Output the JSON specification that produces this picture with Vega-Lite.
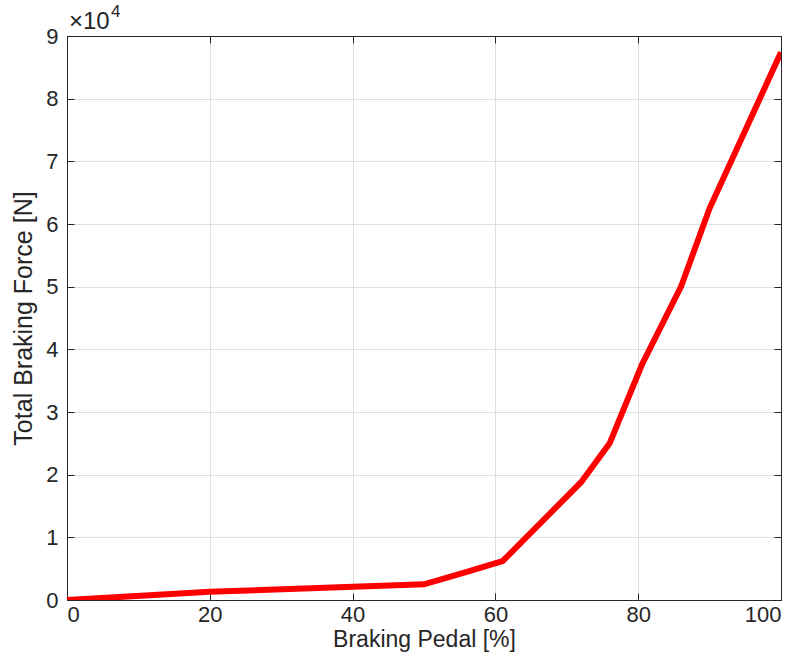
{
  "$schema": "https://vega.github.io/schema/vega-lite/v6.json",
  "width": 714,
  "height": 564,
  "autosize": {"type": "none"},
  "padding": {"left": 67, "top": 36, "right": 23, "bottom": 64},
  "background": "white",
  "config": {
    "font": "Liberation Sans",
    "view": {"stroke": "#262626", "strokeWidth": 1},
    "axis": {
      "labelFont": "Liberation Sans",
      "titleFont": "Liberation Sans",
      "labelFontSize": 22,
      "titleFontSize": 22,
      "titleFontWeight": "normal",
      "labelColor": "#262626",
      "titleColor": "#262626",
      "domainColor": "#262626",
      "tickColor": "#262626",
      "gridColor": "#dfdfdf",
      "gridWidth": 1,
      "tickSize": -7,
      "domain": true
    }
  },
  "data": {
    "values": [
      {"pedal": 0, "force": 0},
      {"pedal": 20, "force": 1300},
      {"pedal": 50, "force": 2500},
      {"pedal": 56, "force": 4500},
      {"pedal": 61, "force": 6200},
      {"pedal": 72, "force": 18800},
      {"pedal": 76, "force": 25000},
      {"pedal": 80.5, "force": 37500},
      {"pedal": 86, "force": 50000},
      {"pedal": 90, "force": 62500},
      {"pedal": 100, "force": 87400}
    ]
  },
  "layer": [
    {
      "mark": {"type": "line", "color": "#ff0000", "strokeWidth": 6, "strokeCap": "butt", "strokeJoin": "miter", "clip": true},
      "encoding": {
        "x": {
          "field": "pedal", "type": "quantitative",
          "scale": {"domain": [0, 100], "nice": false, "zero": false},
          "axis": {"orient": "bottom", "title": "Braking Pedal [%]", "titleFontSize": 23, "values": [0, 20, 40, 60, 80, 100], "grid": true, "labelPadding": 11, "titlePadding": 3}
        },
        "y": {
          "field": "force", "type": "quantitative",
          "scale": {"domain": [0, 90000], "nice": false},
          "axis": {"orient": "left", "title": "Total Braking Force [N]", "titleFontSize": 25, "values": [0, 10000, 20000, 30000, 40000, 50000, 60000, 70000, 80000, 90000], "labelExpr": "datum.value / 10000", "grid": true, "labelPadding": 16, "titlePadding": 9}
        }
      }
    },
    {
      "mark": {"type": "point", "opacity": 0},
      "encoding": {
        "x": {
          "field": "pedal", "type": "quantitative",
          "axis": {"orient": "top", "title": null, "labels": false, "grid": false, "values": [0, 20, 40, 60, 80, 100]}
        },
        "y": {
          "field": "force", "type": "quantitative",
          "axis": {"orient": "right", "title": null, "labels": false, "grid": false, "values": [0, 10000, 20000, 30000, 40000, 50000, 60000, 70000, 80000, 90000]}
        }
      }
    },
    {
      "data": {"values": [{"pedal": 0, "force": 90000, "base": "×10", "exp": "4"}]},
      "mark": {"type": "text", "align": "left", "baseline": "alphabetic", "dx": 2, "dy": -7, "fontSize": 24, "color": "#262626", "font": "Liberation Sans"},
      "encoding": {
        "x": {"field": "pedal", "type": "quantitative", "axis": null},
        "y": {"field": "force", "type": "quantitative", "axis": null},
        "text": {"field": "base"}
      }
    },
    {
      "data": {"values": [{"pedal": 0, "force": 90000, "base": "×10", "exp": "4"}]},
      "mark": {"type": "text", "align": "left", "baseline": "alphabetic", "dx": 44, "dy": -19, "fontSize": 17, "color": "#262626", "font": "Liberation Sans"},
      "encoding": {
        "x": {"field": "pedal", "type": "quantitative", "axis": null},
        "y": {"field": "force", "type": "quantitative", "axis": null},
        "text": {"field": "exp"}
      }
    }
  ]
}
